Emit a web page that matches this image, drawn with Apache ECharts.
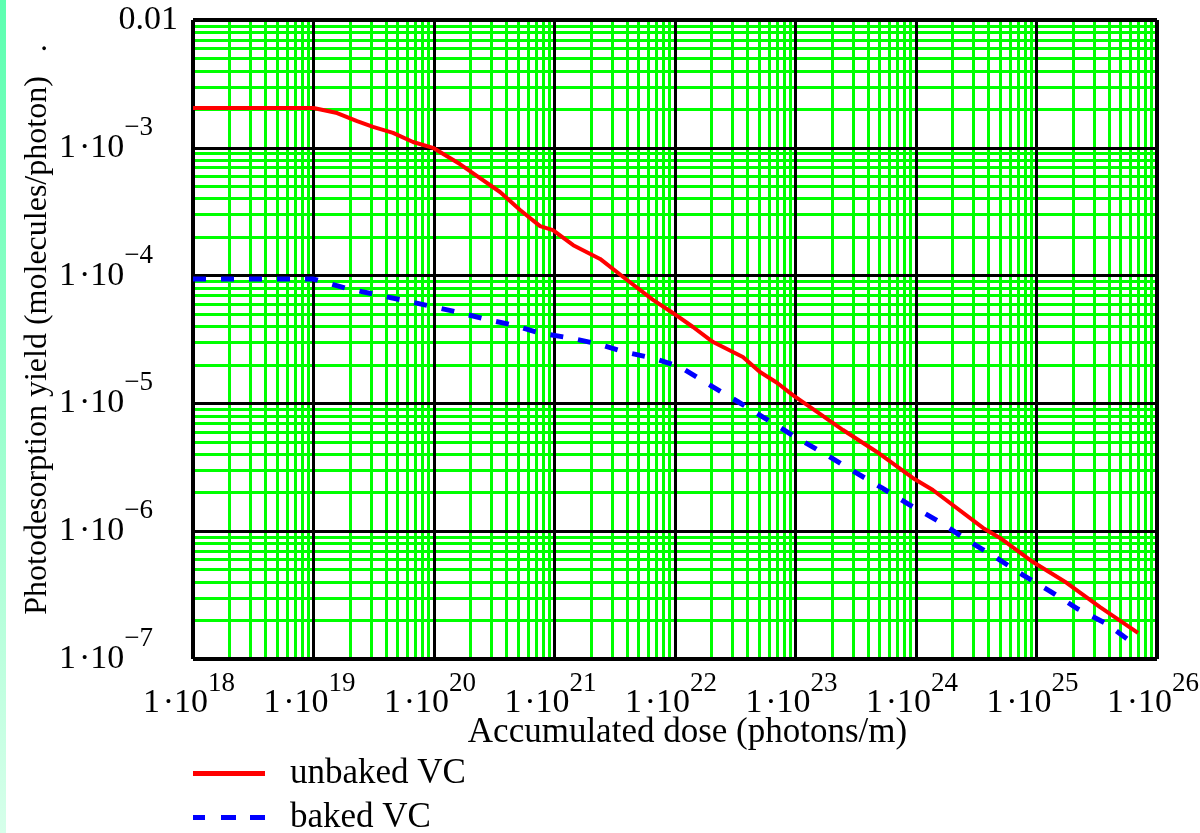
<!DOCTYPE html>
<html>
<head>
<meta charset="utf-8">
<script src="https://cdn.jsdelivr.net/npm/echarts@6/dist/echarts.min.js"></script>
<style>
  html, body { margin: 0; padding: 0; background: #ffffff; }
  #chart { width: 1200px; height: 833px; }
</style>
</head>
<body>
<div id="chart"></div>
<script>
// Photodesorption yield vs accumulated photon dose, unbaked and baked vacuum chamber
const doseUnbaked = [1e18, 1e19, 1.57e19, 2.3e19, 3.12e19, 4.57e19, 6.7e19, 9.8e19, 1.64e20, 2.41e20,
  3.53e20, 5.18e20, 7.59e20, 9.7e20, 1.43e21, 2.39e21, 4.0e21, 6.57e21, 9.6e21, 1.41e22,
  2.07e22, 3.66e22, 5.07e22, 7.02e22, 9.5e22, 1.51e23, 2.48e23, 4.74e23, 9.4e23, 1.38e24,
  3.6e24, 4.98e24, 9.35e24, 1.79e25, 3.37e25, 6.95e25];
const yieldUnbaked = [2.05e-3, 2.05e-3, 1.87e-3, 1.62e-3, 1.46e-3, 1.31e-3, 1.11e-3, 1.0e-3, 7.46e-4, 5.8e-4,
  4.51e-4, 3.26e-4, 2.44e-4, 2.27e-4, 1.73e-4, 1.35e-4, 9.24e-5, 6.45e-5, 5.1e-5, 3.96e-5,
  3.02e-5, 2.31e-5, 1.76e-5, 1.45e-5, 1.16e-5, 8.57e-6, 6.19e-6, 4.17e-6, 2.61e-6, 2.1e-6,
  1.06e-6, 8.85e-7, 5.74e-7, 3.93e-7, 2.55e-7, 1.6e-7];

const doseBaked = [1e18, 1e19, 1.82e19, 3.12e19, 5.42e19, 9.27e19, 1.55e20, 2.65e20, 4.53e20, 7.59e20,
  1.35e21, 2.3e21, 3.85e21, 6.57e21, 1.1e22, 1.95e22, 3.33e22, 5.91e22, 1.03e23, 1.76e23,
  3.0e23, 5.22e23, 8.92e23, 1.58e24, 2.65e24, 4.53e24, 7.73e24, 1.29e25, 2.21e25, 3.85e25, 6.32e25];
const yieldBaked = [9.4e-5, 9.4e-5, 8.0e-5, 7.18e-5, 6.44e-5, 5.78e-5, 5.19e-5, 4.57e-5, 4.1e-5, 3.55e-5,
  3.25e-5, 2.92e-5, 2.52e-5, 2.26e-5, 1.93e-5, 1.39e-5, 1.03e-5, 7.41e-6, 5.36e-6, 4.02e-6,
  2.96e-6, 2.18e-6, 1.6e-6, 1.18e-6, 8.53e-7, 6.28e-7, 4.54e-7, 3.4e-7, 2.46e-7, 1.88e-7, 1.33e-7];

const seriesNames = ['unbaked VC', 'baked VC'];
const xExponents = [18, 19, 20, 21, 22, 23, 24, 25, 26];
const yExponents = [-7, -6, -5, -4, -3, -2];
const xAxisTitle = 'Accumulated dose (photons/m)';
const yAxisTitle = 'Photodesorption yield (molecules/photon)   .';

const FONT = '"Liberation Serif", "DejaVu Serif", serif';

// zip x/y arrays into [x, y] pairs
const pairs = (xs, ys) => xs.map((x, i) => [x, ys[i]]);

const xMin = Math.pow(10, xExponents[0]);
const xMax = Math.pow(10, xExponents[xExponents.length - 1]);
const yMin = Math.pow(10, yExponents[0]);
const yMax = Math.pow(10, yExponents[yExponents.length - 1]);

// log-paper grid: green lines at 2..9 within each decade, black lines at the decades
const vLine = (x, width) => [
  { coord: [x, yMin], lineStyle: width ? { width } : undefined },
  { coord: [x, yMax] }
];
const hLine = (y, width) => [
  { coord: [xMin, y], lineStyle: width ? { width } : undefined },
  { coord: [xMax, y] }
];
const minorLines = [], majorLines = [];
for (let i = 0; i < xExponents.length - 1; i++) {
  for (let m = 2; m <= 9; m++) minorLines.push(vLine(m * Math.pow(10, xExponents[i])));
}
for (let i = 0; i < yExponents.length - 1; i++) {
  for (let m = 2; m <= 9; m++) minorLines.push(hLine(m * Math.pow(10, yExponents[i])));
}
xExponents.forEach((e, i) => {
  const edge = i === 0 || i === xExponents.length - 1;
  majorLines.push(vLine(Math.pow(10, e), edge ? 4 : 3));
});
yExponents.forEach((e, i) => {
  const edge = i === 0 || i === yExponents.length - 1;
  majorLines.push(hLine(Math.pow(10, e), edge ? 4 : 3));
});

const gridLines = (data, color, z) => ({
  type: 'line',
  data: [],
  silent: true,
  z: z,
  markLine: {
    z: z,
    silent: true,
    symbol: ['none', 'none'],
    label: { show: false },
    emphasis: { disabled: true },
    lineStyle: { color: color, width: 3, type: 'solid', opacity: 1 },
    animation: false,
    data: data
  }
});

const expOf = v => Math.round(Math.log10(v));
const MANTISSA = '1\u200a·10';

// both tokens share one box height; padding places the exponent above the mantissa
const richX = {
  m: { fontFamily: FONT, fontSize: 34, color: '#000', lineHeight: 34, padding: [15, 0, 0, 0] },
  s: { fontFamily: FONT, fontSize: 27, color: '#000', lineHeight: 24, padding: [0, 8, 25, 0] }
};
const richY = {
  z: { fontFamily: FONT, fontSize: 34, color: '#000', lineHeight: 34, padding: [15, 0, 0, 0] },
  m: { fontFamily: FONT, fontSize: 34, color: '#000', lineHeight: 34, padding: [15, 0, 0, 0] },
  s: { fontFamily: FONT, fontSize: 27, color: '#000', lineHeight: 24, padding: [0, 25, 25, 0] }
};

const legendBase = {
  left: 193,
  padding: 0,
  itemWidth: 72,
  itemHeight: 5,
  selectedMode: false,
  textStyle: { fontFamily: FONT, fontSize: 35, color: '#000', lineHeight: 32, padding: [0, 0, 0, 20] }
};

const chart = echarts.init(document.getElementById('chart'), null, { renderer: 'canvas' });

chart.setOption({
  animation: false,
  backgroundColor: '#ffffff',
  graphic: [{
    type: 'rect',
    left: 0, top: 0,
    shape: { x: 0, y: 0, width: 6, height: 833 },
    style: {
      fill: new echarts.graphic.LinearGradient(0, 0, 0, 1, [
        { offset: 0, color: '#5cffb0' },
        { offset: 1, color: '#d6ffea' }
      ])
    },
    silent: true
  }],
  grid: { left: 193, top: 20, width: 964, height: 639, show: false, containLabel: false, outerBoundsMode: 'none' },
  legend: [
    Object.assign({}, legendBase, {
      top: 756,
      data: [{ name: seriesNames[0], icon: 'rect', itemStyle: { color: '#ff0000' } }]
    }),
    Object.assign({}, legendBase, {
      top: 800,
      data: [{ name: seriesNames[1], icon: 'path://M0,0H12V5H0Z M28,0H43V5H28Z M57,0H72V5H57Z', itemStyle: { color: '#0000ff' } }]
    })
  ],
  xAxis: {
    type: 'log',
    logBase: 10,
    min: xMin,
    max: xMax,
    interval: 1,
    name: xAxisTitle,
    nameLocation: 'middle',
    nameGap: 56,
    nameMoveOverlap: false,
    nameTextStyle: { fontFamily: FONT, fontSize: 35, color: '#000', padding: [0, 0, 0, 25] },
    axisLine: { show: false },
    axisTick: { show: false },
    splitLine: { show: false },
    minorTick: { show: false },
    axisLabel: {
      margin: 20,
      showMinLabel: true,
      showMaxLabel: true,
      hideOverlap: false,
      formatter: v => '{m|' + MANTISSA + '}{s|' + expOf(v) + '}',
      rich: richX
    }
  },
  yAxis: {
    type: 'log',
    logBase: 10,
    min: yMin,
    max: yMax,
    interval: 1,
    name: yAxisTitle,
    nameLocation: 'middle',
    nameGap: 139,
    nameMoveOverlap: false,
    nameTextStyle: { fontFamily: FONT, fontSize: 32, color: '#000', padding: [0, 0, 0, 20] },
    axisLine: { show: false },
    axisTick: { show: false },
    splitLine: { show: false },
    minorTick: { show: false },
    axisLabel: {
      margin: 15,
      padding: [0, 0, 15, 0],
      showMinLabel: true,
      showMaxLabel: true,
      hideOverlap: false,
      formatter: v => {
        const e = expOf(v);
        if (e === -2) return '{z|0.01}';
        return '{m|' + MANTISSA + '}{s|\u2212' + (-e) + '}';
      },
      rich: richY
    }
  },
  series: [
    gridLines(minorLines, '#00ff00', 1),
    gridLines(majorLines, '#000000', 2),
    {
      name: seriesNames[0],
      type: 'line',
      z: 4,
      symbol: 'none',
      showSymbol: false,
      silent: true,
      data: pairs(doseUnbaked, yieldUnbaked),
      lineStyle: { color: '#ff0000', width: 4, type: 'solid' },
      itemStyle: { color: '#ff0000' }
    },
    {
      name: seriesNames[1],
      type: 'line',
      z: 3,
      symbol: 'none',
      showSymbol: false,
      silent: true,
      data: pairs(doseBaked, yieldBaked),
      lineStyle: { color: '#0000ff', width: 5, type: [13, 15] },
      itemStyle: { color: '#0000ff' }
    }
  ]
});
</script>
</body>
</html>
